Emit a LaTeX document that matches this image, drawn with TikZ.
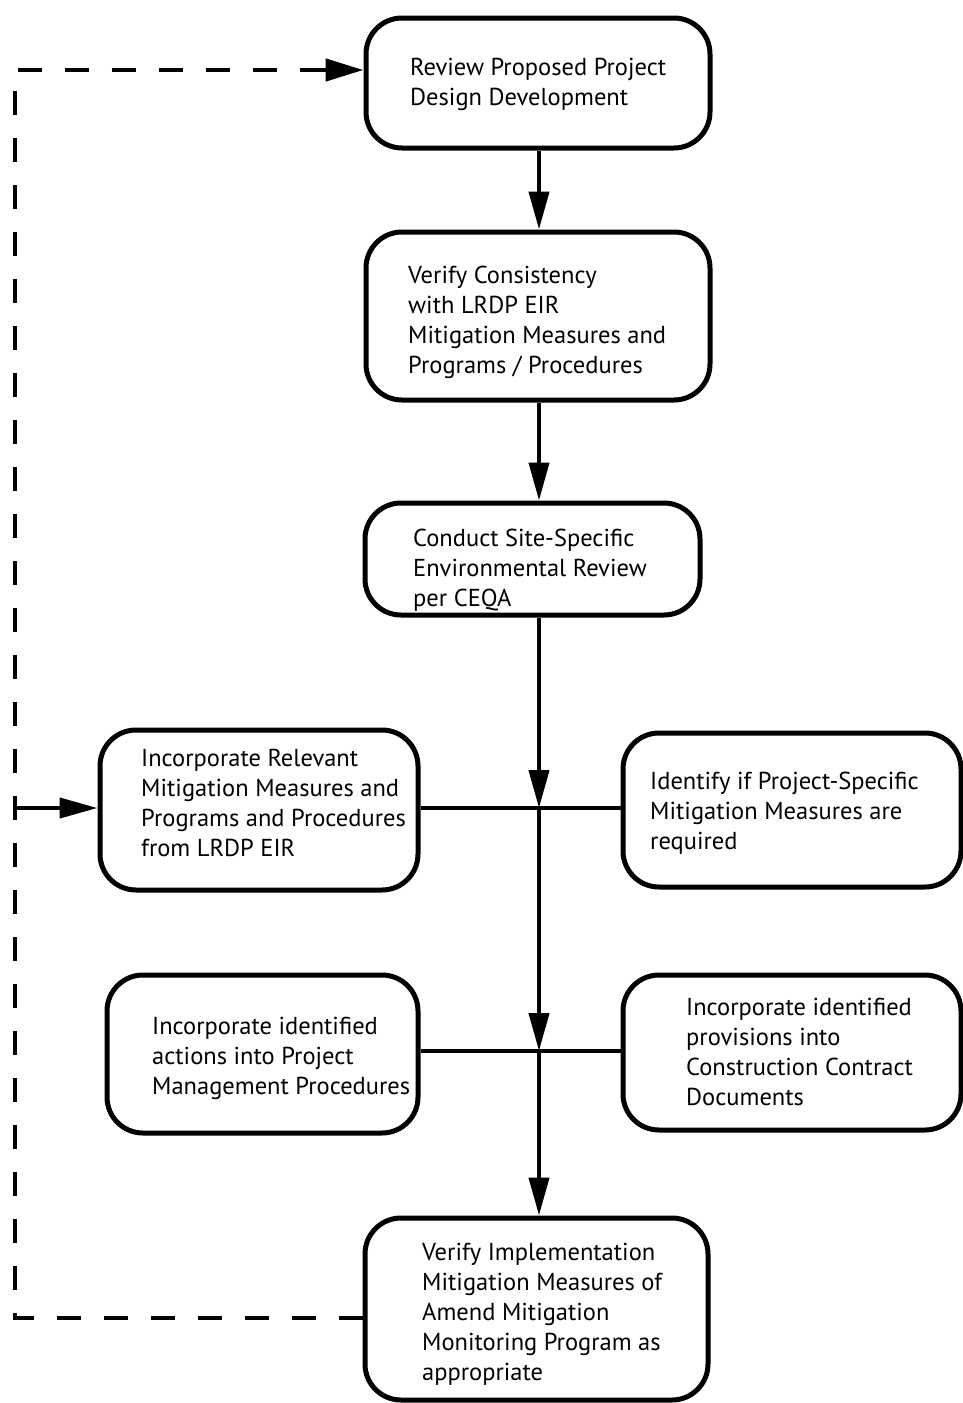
\documentclass[tikz,border=0pt]{standalone}
\usepackage{fontspec}
\setmainfont{PT Sans}
\usetikzlibrary{arrows.meta,calc}
\begin{document}
\begin{tikzpicture}[x=1pt,y=1pt,
  box/.style={draw, line width=5pt, rounded corners=36pt, inner sep=0pt},
  txt/.style={anchor=west, align=left, inner sep=0pt, font=\fontsize{24.5}{30}\selectfont},
  conn/.style={line width=4.2pt},
  arr/.style={conn, -{Triangle[length=38pt,width=20pt]}},
  loopline/.style={line width=4.8pt, dash pattern=on 24pt off 23pt}
]
\useasboundingbox (0,0) rectangle (963,-1403);
% boxes
\node[box, minimum width=344pt, minimum height=130pt] (b1) at (538,-83) {};
\node[box, minimum width=344pt, minimum height=168pt] (b2) at (538,-316) {};
\node[box, minimum width=335pt, minimum height=112pt] (b3) at (532.5,-559) {};
\node[box, minimum width=318pt, minimum height=160pt] (b4) at (259,-810) {};
\node[box, minimum width=338pt, minimum height=154pt] (b5) at (792,-810) {};
\node[box, minimum width=311pt, minimum height=158pt] (b6) at (262.5,-1054) {};
\node[box, minimum width=338pt, minimum height=155pt] (b7) at (792,-1052.5) {};
\node[box, minimum width=343pt, minimum height=182pt] (b8) at (536.5,-1309) {};
% texts
\node[txt] (t1) at (410,-84) {Review Proposed Project\\Design Development};
\node[txt] (t2) at (408,-322) {Verify Consistency\\with LRDP EIR\\Mitigation Measures and\\Programs / Procedures};
\node[txt] (t3) at (413,-570) {Conduct Site-Specific\\Environmental Review\\per CEQA};
\node[txt] (t4) at (141,-803) {Incorporate Relevant\\Mitigation Measures and\\Programs and Procedures\\from LRDP EIR};
\node[txt] (t5) at (650,-813) {Identify if Project-Specific\\Mitigation Measures are\\required};
\node[txt] (t6) at (152,-1058) {Incorporate identified\\actions into Project\\Management Procedures};
\node[txt] (t7) at (686,-1052) {Incorporate identified\\provisions into\\Construction Contract\\Documents};
\node[txt] (t8) at (422,-1314) {Verify Implementation\\Mitigation Measures of\\Amend Mitigation\\Monitoring Program as\\appropriate};
% junctions
\coordinate (j1) at (539,-808);
\coordinate (j2) at (539,-1051);
\coordinate (c1) at (15,-1318);
\coordinate (c2) at (15,-70);
\coordinate (c3) at (15,-808);
% main flow
\draw[arr] (b1.south -| j1) -- (b2.north -| j1);
\draw[arr] (b2.south -| j1) -- (b3.north -| j1);
\draw[arr] (b3.south -| j1) -- (j1);
\draw[arr] (j1) -- (j2);
\draw[arr] (j2) -- (b8.north -| j2);
\draw[conn] (j1 -| b4.east) -- (j1 -| b5.west);
\draw[conn] (j2 -| b6.east) -- (j2 -| b7.west);
% feedback loop
\draw[loopline] (c1 -| b8.west) -- (c1) -- (c2) -- ($(c2 -| b1.west)+(-36,0)$);
\draw[conn, line width=4.8pt, -{Triangle[length=38pt,width=22pt]}] ($(c2 -| b1.west)+(-40,0)$) -- (c2 -| b1.west);
\draw[arr] (c3) -- (c3 -| b4.west);
\end{tikzpicture}
\end{document}
